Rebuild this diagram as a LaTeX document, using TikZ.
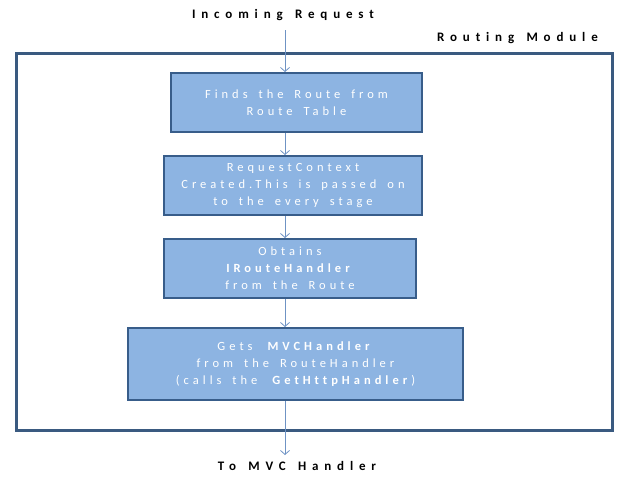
\documentclass[tikz,border=0pt]{standalone}
\usepackage{fontspec}
\setmainfont{Carlito}
\usetikzlibrary{arrows.meta}
\definecolor{boxfill}{HTML}{8DB4E2}
\definecolor{boxline}{HTML}{385D8A}
\definecolor{frameline}{HTML}{3A5A80}
\definecolor{arrcol}{HTML}{6F93C4}
\newfontfamily\spaced[LetterSpace=32,WordSpace=1.6,Ligatures={NoCommon}]{Carlito}
\newfontfamily\spacedlabel[LetterSpace=45,WordSpace=1.4,Ligatures={NoCommon}]{Carlito}
\begin{document}
\begin{tikzpicture}[x=1pt,y=-1pt,
  stagebox/.style={draw=boxline,line width=2pt,fill=boxfill,text=white,
    font=\spaced\fontsize{12.5}{17}\selectfont,align=center,inner sep=0pt},
  lbl/.style={font=\spacedlabel\bfseries\fontsize{13}{15}\selectfont,text=black,inner sep=0pt},
  arr/.style={draw=arrcol,line width=0.8pt,-{Straight Barb[length=4pt,width=9pt,line width=0.8pt]}}]
\useasboundingbox (0,0) rectangle (626,482);
\node[draw=frameline,line width=3pt,minimum width=596pt,minimum height=377pt,inner sep=0pt] (frame) at (314,241.5) {};
\node[lbl] (inreq) at (283,15) {Incoming Request};
\node[lbl,anchor=east] (rm) at (598,38) {Routing Module};
\node[lbl] (tomvc) at (297,466) {To MVC Handler};
\node[stagebox,minimum width=251pt,minimum height=59pt] (b1) at (296.5,102.5)
  {Finds the Route from\\Route Table};
\node[stagebox,minimum width=258pt,minimum height=59pt] (b2) at (293,185.5)
  {RequestContext\\Created.This is passed on\\to the every stage};
\node[stagebox,minimum width=252pt,minimum height=59pt] (b3) at (290,268.5)
  {Obtains\\\textbf{IRouteHandler}\\from the Route};
\node[stagebox,minimum width=335pt,minimum height=72pt] (b4) at (295.5,364)
  {Gets \textbf{MVCHandler}\\from the RouteHandler\\(calls the \textbf{GetHttpHandler})};
\coordinate (c0) at (285,30);
\coordinate (c5) at (285,455);
\draw[arr] (c0) -- (c0 |- b1.north);
\draw[arr] (b1.south -| c0) -- (b2.north -| c0);
\draw[arr] (b2.south -| c0) -- (b3.north -| c0);
\draw[arr] (b3.south -| c0) -- (b4.north -| c0);
\draw[arr] (b4.south -| c0) -- (c5);
\end{tikzpicture}
\end{document}
